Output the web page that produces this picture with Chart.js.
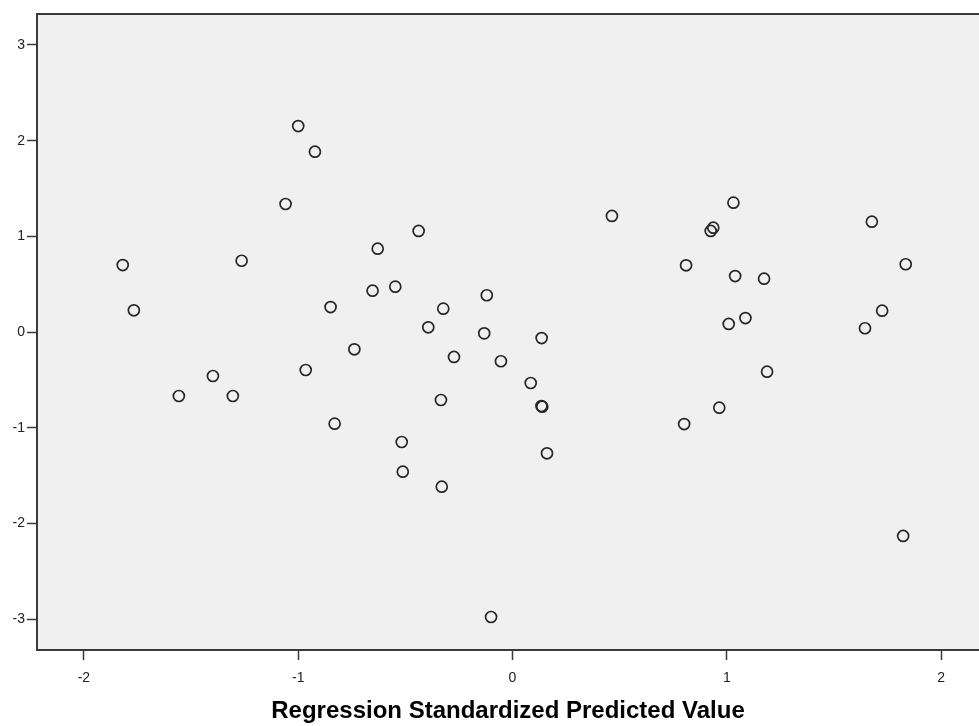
<!DOCTYPE html>
<html>
<head>
<meta charset="utf-8">
<script src="https://cdn.jsdelivr.net/npm/chart.js@4.4.1/dist/chart.umd.min.js"></script>
<style>
    html, body { margin: 0; padding: 0; background: #fff; }
    #wrap { width: 979px; height: 726px; }
</style>
</head>
<body>
<div id="wrap"><canvas id="scatterChart"></canvas></div>
<script>
// Values
const predicted = [
    -1.819, -1.767, -1.557, -1.398, -1.305, -1.264, -1.000, -0.922, -1.059, -0.965,
    -0.849, -0.830, -0.738, -0.653, -0.629, -0.547, -0.517, -0.512, -0.438, -0.393,
    -0.334, -0.323, -0.330, -0.273, -0.120, -0.132, -0.100, -0.054, 0.085, 0.136,
    0.139, 0.135, 0.161, 0.464, 0.810, 0.801, 0.925, 0.937, 1.031, 1.039,
    1.009, 1.087, 0.965, 1.174, 1.188, 1.677, 1.835, 1.725, 1.645, 1.823
];
const residual = [
    0.700, 0.227, -0.669, -0.460, -0.669, 0.745, 2.153, 1.885, 1.338, -0.397,
    0.261, -0.958, -0.181, 0.432, 0.871, 0.474, -1.150, -1.460, 1.056, 0.049,
    -0.711, 0.244, -1.617, -0.261, 0.384, -0.014, -2.979, -0.306, -0.533, -0.063,
    -0.781, -0.774, -1.268, 1.213, 0.697, -0.962, 1.056, 1.090, 1.352, 0.585,
    0.084, 0.146, -0.791, 0.557, -0.415, 1.153, 0.708, 0.223, 0.039, -2.132
];
const xTicks = [-2, -1, 0, 1, 2];
const yTicks = [-3, -2, -1, 0, 1, 2, 3];
const xTitle = 'Regression Standardized Predicted Value';

const points = predicted.map((x, i) => ({ x: x, y: residual[i] }));

// plot area background and top border
const plotFrame = {
    id: 'plotFrame',
    beforeDraw(chart) {
        const { ctx, chartArea: a } = chart;
        ctx.save();
        ctx.fillStyle = '#f0f0f0';
        ctx.fillRect(a.left, a.top, a.right - a.left, a.bottom - a.top);
        ctx.strokeStyle = '#3a3a3a';
        ctx.lineWidth = 2;
        ctx.beginPath();
        ctx.moveTo(a.left, a.top);
        ctx.lineTo(a.right, a.top);
        ctx.stroke();
        ctx.restore();
    }
};

const axisColor = '#3a3a3a';

new Chart(document.getElementById('scatterChart'), {
    type: 'scatter',
    data: {
        datasets: [{
            data: points,
            pointRadius: 5.5,
            pointHoverRadius: 5.5,
            pointBorderWidth: 1.7,
            pointBorderColor: '#262626',
            pointBackgroundColor: 'rgba(0,0,0,0)'
        }]
    },
    options: {
        responsive: true,
        maintainAspectRatio: false,
        animation: false,
        layout: { autoPadding: false, padding: { top: 14, right: 0, left: 0, bottom: 0 } },
        plugins: { legend: { display: false }, tooltip: { enabled: false } },
        scales: {
            x: {
                min: -2.219,
                max: 2.177,
                afterBuildTicks: s => { s.ticks = xTicks.map(v => ({ value: v })); },
                afterFit: s => { s.height = 76; },
                grid: { drawOnChartArea: false, tickLength: 10, tickColor: axisColor, tickWidth: 1.5 },
                border: { color: axisColor, width: 2 },
                ticks: { color: '#222', padding: 10, font: { family: 'Liberation Sans, Arial', size: 14 } },
                title: {
                    display: true,
                    text: xTitle,
                    color: '#000',
                    padding: { top: 0, bottom: 0 },
                    font: { family: 'Liberation Sans, Arial', size: 24, weight: 'bold' }
                }
            },
            y: {
                min: -3.324,
                max: 3.324,
                afterBuildTicks: s => { s.ticks = yTicks.map(v => ({ value: v })); },
                afterFit: s => { s.width = 37; },
                grid: { drawOnChartArea: false, tickLength: 10, tickColor: axisColor, tickWidth: 1.5 },
                border: { color: axisColor, width: 2 },
                ticks: { color: '#222', padding: 2, font: { family: 'Liberation Sans, Arial', size: 14 } }
            }
        }
    },
    plugins: [plotFrame]
});
</script>
</body>
</html>
